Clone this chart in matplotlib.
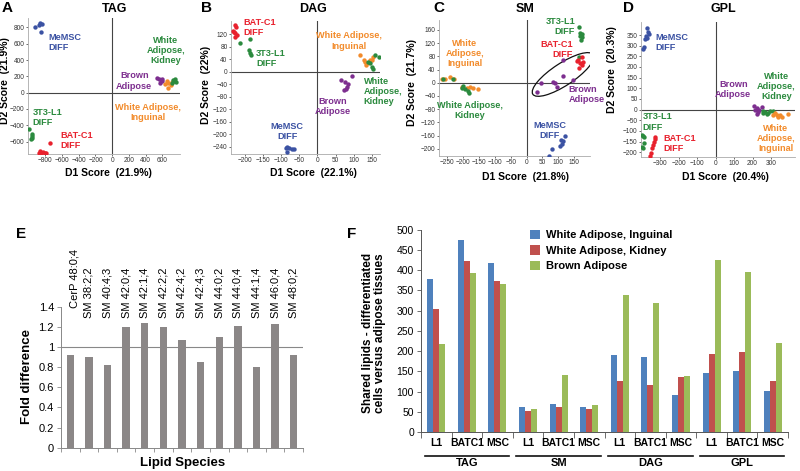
import matplotlib
matplotlib.use('Agg')
import matplotlib.pyplot as plt
from matplotlib.patches import Ellipse
import matplotlib.transforms as mtransforms
import numpy as np

plt.rcParams['font.family'] = ['Liberation Sans', 'DejaVu Sans']

W, H = 800, 471

C_BLUE = '#3b52a3'
C_GREEN = '#2b8a3e'
C_RED = '#e8212d'
C_PURPLE = '#7d2e8f'
C_ORANGE = '#f28b2b'

# ---------------- Panel A: TAG ----------------
tag_memsc = [(-928, 800), (-868, 849), (-836, 840), (-848, 746), (-880, 830)]
tag_3t3 = [(-1000, -451), (-960, -512), (-960, -553), (-968, -574), (-955, -530)]
tag_batc1 = [(-748, -615), (-868, -717), (-848, -738), (-828, -728), (-808, -745), (-788, -735), (-876, -745)]
tag_brown = [(540, 185), (564, 164), (592, 143), (580, 150), (572, 123), (600, 170)]
tag_wai = [(652, 143), (672, 123), (700, 90), (672, 62), (632, 100), (712, 128)]
tag_wak = [(732, 152), (752, 164), (764, 131), (712, 123), (742, 140)]

# ---------------- Panel B: DAG ----------------
dag_batc1 = [(-228, 149), (-225, 144), (-231, 128), (-227, 123), (-233, 131), (-222, 117), (-228, 112)]
dag_3t3 = [(-213, 93), (-185, 105), (-188, 69), (-185, 61), (-183, 53)]
dag_memsc = [(-83, -240), (-78, -244), (-71, -246), (-64, -247), (-84, -256), (-86, -243)]
dag_brown = [(64, -27), (76, -32), (94, -14), (85, -38), (81, -50), (73, -57), (78, -54)]
dag_wai = [(116, 53), (127, 37), (132, 33), (136, 27), (145, 39), (150, 37), (154, 48), (134, 21)]
dag_wak = [(159, 53), (168, 48), (145, 27), (150, 16), (152, 9), (140, 32)]

# ---------------- Panel C: SM ----------------
sm_3t3 = [(165, 168), (168, 150), (174, 147), (168, 142), (171, 130), (174, 140), (166, 79)]
sm_batc1 = [(163, 69), (174, 77), (168, 59), (177, 64), (166, 44), (158, 66), (174, 54)]
sm_brown = [(116, 69), (116, 20), (47, 0), (84, 3), (89, -2), (95, -14), (32, -27), (147, 8)]
sm_wai = [(-268, 11), (-258, 10), (-242, 16), (-229, 11), (-205, -14), (-189, -17), (-168, -17), (-153, -19), (-179, -14)]
sm_wak = [(-263, 10), (-232, 11), (-200, -10), (-195, -20), (-184, -24), (-181, -30), (-205, -17)]
sm_memsc = [(121, -162), (108, -174), (111, -186), (105, -192), (79, -202), (72, -223), (114, -178)]

# ---------------- Panel D: GPL ----------------
gpl_memsc = [(-373, 384), (-368, 364), (-364, 356), (-377, 344), (-382, 333), (-391, 294), (-396, 286), (-375, 336)]
gpl_3t3 = [(-400, -120), (-395, -124), (-391, -156), (-400, -175), (-396, -180), (-391, -128)]
gpl_batc1 = [(-328, -128), (-333, -152), (-341, -164), (-346, -178), (-350, -203), (-355, -217), (-328, -136)]
gpl_brown = [(207, 16), (222, 9), (213, -3), (231, -11), (249, 12), (236, 0), (222, -19)]
gpl_wak = [(254, -8), (267, -11), (276, -19), (294, -8), (312, -6), (258, -16), (285, -16)]
gpl_wai = [(321, -16), (330, -27), (348, -23), (357, -34), (393, -19), (339, -34), (312, -27)]

# ---------------- Panel E ----------------
lipids = ['CerP 48:0;4', 'SM 38:2;2', 'SM 40:4;3', 'SM 42:0;4', 'SM 42:1;4', 'SM 42:2;2',
          'SM 42:4;2', 'SM 42:4;3', 'SM 44:0;2', 'SM 44:0;4', 'SM 44:1;4', 'SM 46:0;4', 'SM 48:0;2']
fold_diff = [0.92, 0.90, 0.82, 1.20, 1.24, 1.20, 1.07, 0.85, 1.10, 1.21, 0.80, 1.23, 0.92]

# ---------------- Panel F ----------------
lipid_classes = ['TAG', 'SM', 'DAG', 'GPL']
cell_types = ['L1', 'BATC1', 'MSC']
series_names = ['White Adipose, Inguinal', 'White Adipose, Kidney', 'Brown Adipose']
wa_inguinal = [378, 475, 418, 61, 69, 63, 190, 186, 91, 147, 150, 101]
wa_kidney = [305, 422, 374, 53, 62, 56, 126, 117, 135, 194, 197, 126]
brown_adipose = [218, 392, 366, 58, 140, 67, 339, 318, 139, 424, 396, 221]
F_COLORS = ['#4f81bd', '#c0504d', '#9bbb59']

fig = plt.figure(figsize=(W / 100, H / 100), dpi=100)


def rect(l, t, r, b):
    return [l / W, 1 - b / H, (r - l) / W, (b - t) / H]


def ftext(x, y, s, **kw):
    fig.text(x / W, 1 - y / H, s, **kw)


def scatter_panel(r, xlim, ylim, xticks, yticks, groups, labels):
    ax = fig.add_axes(r)
    for pts, col in groups:
        xs = [p[0] for p in pts]
        ys = [p[1] for p in pts]
        ax.scatter(xs, ys, s=10, color=col, lw=0, zorder=3)
    ax.axhline(0, color='#444444', lw=0.8, zorder=1)
    ax.axvline(0, color='#444444', lw=0.8, zorder=1)
    ax.set_xlim(*xlim)
    ax.set_ylim(*ylim)
    ax.set_xticks(xticks)
    ax.set_yticks(yticks)
    for s in ['top', 'right']:
        ax.spines[s].set_visible(False)
    for s in ['left', 'bottom']:
        ax.spines[s].set_color('#aaaaaa')
        ax.spines[s].set_linewidth(0.6)
    ax.tick_params(labelsize=4.7, colors='#333333', length=1.5, width=0.5, pad=1.0)
    ax.set_facecolor('none')
    for (x, y, txt, col, ha) in labels:
        ax.text(x, y, txt, color=col, fontsize=6.6, fontweight='bold', ha=ha,
                va='center', linespacing=1.15, zorder=4, clip_on=False)
    return ax


# Panel A
scatter_panel(rect(28, 18, 180, 154), (-1008, 812), (-752, 915),
              np.arange(-800, 601, 200), np.arange(-600, 801, 200),
              [(tag_memsc, C_BLUE), (tag_3t3, C_GREEN), (tag_batc1, C_RED),
               (tag_brown, C_PURPLE), (tag_wai, C_ORANGE), (tag_wak, C_GREEN)],
              [(-770, 615, 'MeMSC\nDIFF', C_BLUE, 'left'),
               (-950, -307, '3T3-L1\nDIFF', C_GREEN, 'left'),
               (-616, -582, 'BAT-C1\nDIFF', C_RED, 'left'),
               (640, 520, 'White\nAdipose,\nKidney', C_GREEN, 'center'),
               (264, 143, 'Brown\nAdipose', C_PURPLE, 'center'),
               (432, -238, 'White Adipose,\nInguinal', C_ORANGE, 'center')])

# Panel B
scatter_panel(rect(231, 21, 380, 154), (-238, 172), (-263, 163),
              np.arange(-200, 151, 50), np.arange(-240, 121, 40),
              [(dag_batc1, C_RED), (dag_3t3, C_GREEN), (dag_memsc, C_BLUE),
               (dag_brown, C_PURPLE), (dag_wai, C_ORANGE), (dag_wak, C_GREEN)],
              [(-204, 141, 'BAT-C1\nDIFF', C_RED, 'left'),
               (-169, 43, '3T3-L1\nDIFF', C_GREEN, 'left'),
               (87, 99, 'White Adipose,\nInguinal', C_ORANGE, 'center'),
               (127, -64, 'White\nAdipose,\nKidney', C_GREEN, 'left'),
               (42, -110, 'Brown\nAdipose', C_PURPLE, 'center'),
               (-83, -192, 'MeMSC\nDIFF', C_BLUE, 'center')])

# Panel C
axC = scatter_panel(rect(439, 20, 590, 156), (-276, 200), (-222, 190),
                    np.arange(-250, 151, 50), np.arange(-200, 161, 40),
                    [(sm_3t3, C_GREEN), (sm_batc1, C_RED), (sm_brown, C_PURPLE),
                     (sm_wai, C_ORANGE), (sm_wak, C_GREEN), (sm_memsc, C_BLUE)],
                    [(-195, 89, 'White\nAdipose,\nInguinal', C_ORANGE, 'center'),
                     (-178, -85, 'White Adipose,\nKidney', C_GREEN, 'center'),
                     (153, 170, '3T3-L1\nDIFF', C_GREEN, 'right'),
                     (147, 102, 'BAT-C1\nDIFF', C_RED, 'right'),
                     (132, -35, 'Brown\nAdipose', C_PURPLE, 'left'),
                     (74, -144, 'MeMSC\nDIFF', C_BLUE, 'center')])
axC.add_patch(Ellipse((115, 25), 225, 68, angle=32, fill=False, ec='#111111', lw=0.9, zorder=2))

# Panel D
scatter_panel(rect(641, 22, 795, 157), (-405, 430), (-222, 411),
              np.arange(-300, 301, 100), np.arange(-200, 351, 50),
              [(gpl_memsc, C_BLUE), (gpl_3t3, C_GREEN), (gpl_batc1, C_RED),
               (gpl_brown, C_PURPLE), (gpl_wak, C_GREEN), (gpl_wai, C_ORANGE)],
              [(-328, 317, 'MeMSC\nDIFF', C_BLUE, 'left'),
               (-396, -58, '3T3-L1\nDIFF', C_GREEN, 'left'),
               (-286, -160, 'BAT-C1\nDIFF', C_RED, 'left'),
               (95, 94, 'Brown\nAdipose', C_PURPLE, 'center'),
               (330, 109, 'White\nAdipose,\nKidney', C_GREEN, 'center'),
               (326, -136, 'White\nAdipose,\nInguinal', C_ORANGE, 'center')])

# titles / axis labels for scatter panels
for x, t in [(115, 'TAG'), (313, 'DAG'), (525, 'SM'), (723, 'GPL')]:
    ftext(x, 8.5, t, fontsize=9, fontweight='bold', ha='center', va='center')
for x, t in [(7, 'A'), (207, 'B'), (439, 'C'), (628, 'D'), (21, 'E'), (352, 'F')]:
    y = 8.5 if t in 'ABCD' else 234
    ftext(x, y, t, fontsize=11, fontweight='bold', ha='center', va='center')
for x, y, t in [(108, 173, 'D1 Score  (21.9%)'), (313, 173, 'D1 Score  (22.1%)'),
                (525, 177, 'D1 Score  (21.8%)'), (725, 177, 'D1 Score  (20.4%)')]:
    ftext(x, y, t, fontsize=7.5, fontweight='bold', ha='center', va='center')
for x, y, t in [(5.5, 81, 'D2 Score  (21.9%)'), (206, 85, 'D2 Score  (22%)'),
                (412, 83, 'D2 Score  (21.7%)'), (612, 70, 'D2 Score  (20.3%)')]:
    ftext(x, y, t, fontsize=7.5, fontweight='bold', ha='center', va='center', rotation=90)

# ---------------- Panel E ----------------
axE = fig.add_axes(rect(61, 306.7, 303, 447.7))
xe = np.arange(len(lipids))
axE.bar(xe, fold_diff, width=0.4, color='#8b8787', zorder=2)
axE.axhline(1.0, color='#888888', lw=0.8, zorder=1)
axE.set_xlim(-0.5, len(lipids) - 0.5)
axE.set_ylim(0, 1.4)
yt = np.arange(0, 1.41, 0.2)
axE.set_yticks(yt)
axE.set_yticklabels(['0', '0.2', '0.4', '0.6', '0.8', '1', '1.2', '1.4'])
axE.set_xticks(np.arange(-0.5, len(lipids), 1.0))
axE.set_xticklabels([])
for s in ['top', 'right']:
    axE.spines[s].set_visible(False)
for s in ['left', 'bottom']:
    axE.spines[s].set_color('#888888')
    axE.spines[s].set_linewidth(0.7)
axE.tick_params(axis='y', labelsize=8, length=3, width=0.6, color='#888888', pad=2)
axE.tick_params(axis='x', length=3, width=0.6, color='#888888')
tE = mtransforms.blended_transform_factory(axE.transData, axE.transAxes)
for i, name in enumerate(lipids):
    yb = 0.99 if i == 0 else 0.918
    axE.text(i + (0.25 if i == 0 else 0.0), yb, name, rotation=90, ha='center', va='bottom',
             fontsize=8, transform=tE, clip_on=False)
ftext(27, 377, 'Fold difference', fontsize=9.5, fontweight='bold', rotation=90, ha='center', va='center')
ftext(183, 463, 'Lipid Species', fontsize=9.5, fontweight='bold', ha='center', va='center')

# ---------------- Panel F ----------------
axF = fig.add_axes(rect(421, 229.7, 788, 432))
xf = np.arange(len(lipid_classes) * len(cell_types))
bw = 0.196
for k, (vals, col, nm) in enumerate(zip([wa_inguinal, wa_kidney, brown_adipose], F_COLORS, series_names)):
    axF.bar(xf + (k - 1) * bw, vals, width=bw, color=col, label=nm, zorder=2)
axF.set_xlim(-0.5, len(xf) - 0.5)
axF.set_ylim(0, 500)
axF.set_yticks(np.arange(0, 501, 50))
axF.set_xticks(np.arange(-0.5, len(xf), 1.0))
axF.set_xticklabels([])
for s in ['top', 'right']:
    axF.spines[s].set_visible(False)
for s in ['left', 'bottom']:
    axF.spines[s].set_color('#555555')
    axF.spines[s].set_linewidth(0.7)
axF.tick_params(axis='y', labelsize=7.5, length=3, width=0.6, color='#555555', pad=2)
axF.tick_params(axis='x', length=4, width=0.6, color='#555555')
tF = mtransforms.blended_transform_factory(axF.transData, axF.transAxes)
for i in xf:
    axF.text(i, -0.052, cell_types[i % 3], ha='center', va='center', fontsize=7.5,
             fontweight='bold', transform=tF, clip_on=False)
for g, name in enumerate(lipid_classes):
    c = g * 3 + 1
    axF.plot([c - 1.38, c + 1.38], [-0.118, -0.118], color='#111111', lw=1.2,
             transform=tF, clip_on=False)
    axF.text(c, -0.153, name, ha='center', va='center', fontsize=8, fontweight='bold',
             transform=tF, clip_on=False)
axF.legend(loc='upper left', bbox_to_anchor=(530 / W, 1 - 230 / H), bbox_transform=fig.transFigure,
           frameon=False, prop={'weight': 'bold', 'size': 8}, borderpad=0, borderaxespad=0,
           handlelength=0.9, handleheight=0.9, handletextpad=0.5, labelspacing=0.45)
ftext(374, 333, 'Shared lipids - differentiated\ncells versus adipose tissues', fontsize=8.5,
      fontweight='bold', rotation=90, ha='center', va='center', linespacing=1.1)

fig.savefig('out.png', dpi=100)
